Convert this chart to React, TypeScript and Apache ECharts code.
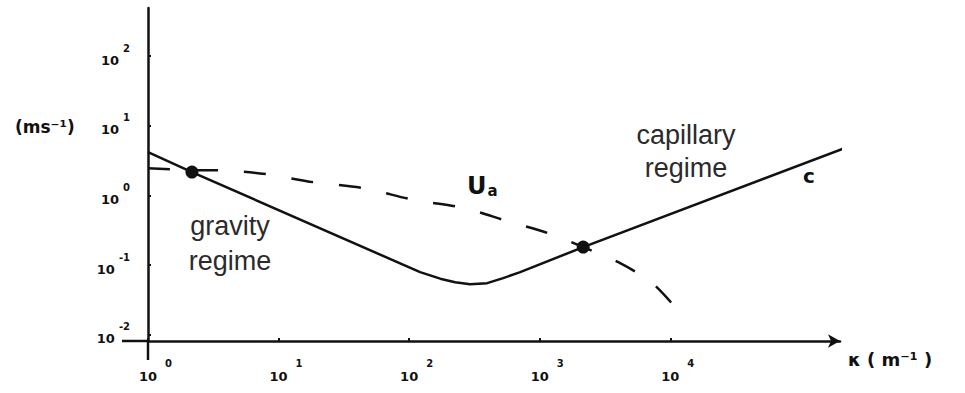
import React, { useEffect, useRef } from 'react';
import * as echarts from 'echarts';

// Phase speed c (solid) — wavenumber k (m^-1) and speed (m/s)
const kC = [1, 2.17, 121.4, 173, 225, 293, 396, 525, 709, 2153, 227000];
const cVals = [4.19, 2.16, 0.0791, 0.0638, 0.0568, 0.0532, 0.055, 0.0649, 0.0791, 0.181, 4.94];

// U_a (dashed)
const kU = [1, 2.17, 3.89, 8.02, 18.4, 44.5, 111, 264, 564, 1161, 2153, 4000, 7280, 11940];
const uVals = [2.45, 2.3, 2.28, 2.02, 1.55, 1.27, 0.855, 0.657, 0.428, 0.287, 0.181, 0.11, 0.055, 0.0204];

// Intersection dots
const kDots = [2.17, 2153];
const dotVals = [2.16, 0.181];

// Tick values (decades)
const xTicks = [1, 10, 100, 1000, 10000];
const yTicks = [0.01, 0.1, 1, 10, 100];

const X_MIN = 1;
const X_MAX = Math.pow(10, 5.3);
const Y_MIN = Math.pow(10, -2.09);
const Y_MAX = Math.pow(10, 2.69);

const INK = '#111';
const TICK_FONT = 'DejaVu Sans';

function powLabel(v: number): string {
  const l = Math.log10(v);
  const r = Math.round(l);
  if (Math.abs(l - r) > 1e-6) return '';
  return `{b|10}{s|${r < 0 ? '-' + Math.abs(r) : r}}`;
}

export default function App() {
  const ref = useRef<HTMLDivElement>(null);
  useEffect(() => {
    if (!ref.current) return;
    const chart = echarts.init(ref.current, undefined, { renderer: 'svg' });
    const cData = kC.map((k, i) => [k, cVals[i]]);
    const uData = kU.map((k, i) => [k, uVals[i]]);
    const dData = kDots.map((k, i) => [k, dotVals[i]]);
    chart.setOption({
      animation: false,
      backgroundColor: '#fff',
      grid: { left: 148, right: 125, top: 8, bottom: 52, containLabel: false },
      xAxis: {
        type: 'log',
        logBase: 10,
        min: X_MIN,
        max: X_MAX,
        splitLine: { show: false },
        axisLine: {
          show: true,
          lineStyle: { color: INK, width: 2.5 },
          symbol: ['none', 'arrow'],
          symbolSize: [10, 12],
        },
        axisTick: { show: true, inside: true, length: 3, customValues: xTicks, lineStyle: { color: INK, width: 2 } },
        minorTick: { show: false },
        axisLabel: {
          margin: 17,
          customValues: xTicks,
          formatter: powLabel,
          color: INK,
          rich: {
            b: { fontSize: 13, fontWeight: 'bold', fontFamily: TICK_FONT, color: INK, padding: [0, 0, 0, 15] },
            s: { fontSize: 10, fontWeight: 'bold', fontFamily: TICK_FONT, color: INK, padding: [0, 0, 26, 8] },
          },
        },
      },
      yAxis: {
        type: 'log',
        logBase: 10,
        min: Y_MIN,
        max: Y_MAX,
        splitLine: { show: false },
        axisLine: { show: true, lineStyle: { color: INK, width: 2.5 } },
        axisTick: { show: true, inside: true, length: 3, customValues: yTicks, lineStyle: { color: INK, width: 2 } },
        axisLabel: {
          margin: 18,
          customValues: yTicks,
          formatter: powLabel,
          color: INK,
          rich: {
            b: { fontSize: 13, fontWeight: 'bold', fontFamily: TICK_FONT, color: INK, padding: [8, 0, 0, 0] },
            s: { fontSize: 10, fontWeight: 'bold', fontFamily: TICK_FONT, color: INK, padding: [0, 0, 16, 4] },
          },
        },
      },
      series: [
        {
          name: 'c',
          type: 'line',
          data: cData,
          smooth: false,
          showSymbol: false,
          clip: false,
          lineStyle: { color: INK, width: 2.5, join: 'round' },
        },
        {
          name: 'U_a',
          type: 'line',
          data: uData,
          smooth: 0.3,
          showSymbol: false,
          clip: false,
          lineStyle: { color: INK, width: 2.5, type: [22, 26] },
        },
        {
          name: 'intersections',
          type: 'scatter',
          data: dData,
          symbol: 'circle',
          symbolSize: 13,
          itemStyle: { color: INK, opacity: 1 },
        },
      ],
      graphic: [
        { type: 'line', shape: { x1: 122, y1: 341, x2: 148, y2: 341 }, style: { stroke: INK, lineWidth: 2.5 } },
        { type: 'line', shape: { x1: 148, y1: 341, x2: 148, y2: 360 }, style: { stroke: INK, lineWidth: 2.5 } },
        {
          type: 'text', left: 15, top: 118,
          style: { text: '(ms⁻¹)', fontSize: 17, fontWeight: 'bold', fontFamily: TICK_FONT, fill: INK },
        },
        {
          type: 'text', left: 848, top: 350,
          style: { text: 'κ ( m⁻¹ )', fontSize: 18, fontWeight: 'bold', fontFamily: TICK_FONT, fill: INK },
        },
        {
          type: 'text', x: 230, y: 243,
          style: {
            text: 'gravity\nregime', fontSize: 27, lineHeight: 35, fontFamily: 'Liberation Sans',
            fill: '#2b2b2b', align: 'center', verticalAlign: 'middle',
          },
        },
        {
          type: 'text', x: 686, y: 151,
          style: {
            text: 'capillary\nregime', fontSize: 27, lineHeight: 33, fontFamily: 'Liberation Sans',
            fill: '#2b2b2b', align: 'center', verticalAlign: 'middle',
          },
        },
        {
          type: 'text', left: 467, top: 174,
          style: {
            text: '{u|U}{a|a}',
            rich: {
              u: { fontSize: 24, fontFamily: TICK_FONT, fontWeight: 'bold', fill: INK, color: INK },
              a: { fontSize: 15, fontFamily: TICK_FONT, fontWeight: 'bold', fill: INK, color: INK, padding: [10, 0, 0, 1] },
            },
          },
        },
        {
          type: 'text', left: 803, top: 166,
          style: { text: 'c', fontSize: 20, fontWeight: 'bold', fontFamily: TICK_FONT, fill: INK },
        },
      ],
    });
    return () => chart.dispose();
  }, []);
  return <div ref={ref} style={{ position: 'absolute', left: 0, top: 0, width: 965, height: 393 }} />;
}
